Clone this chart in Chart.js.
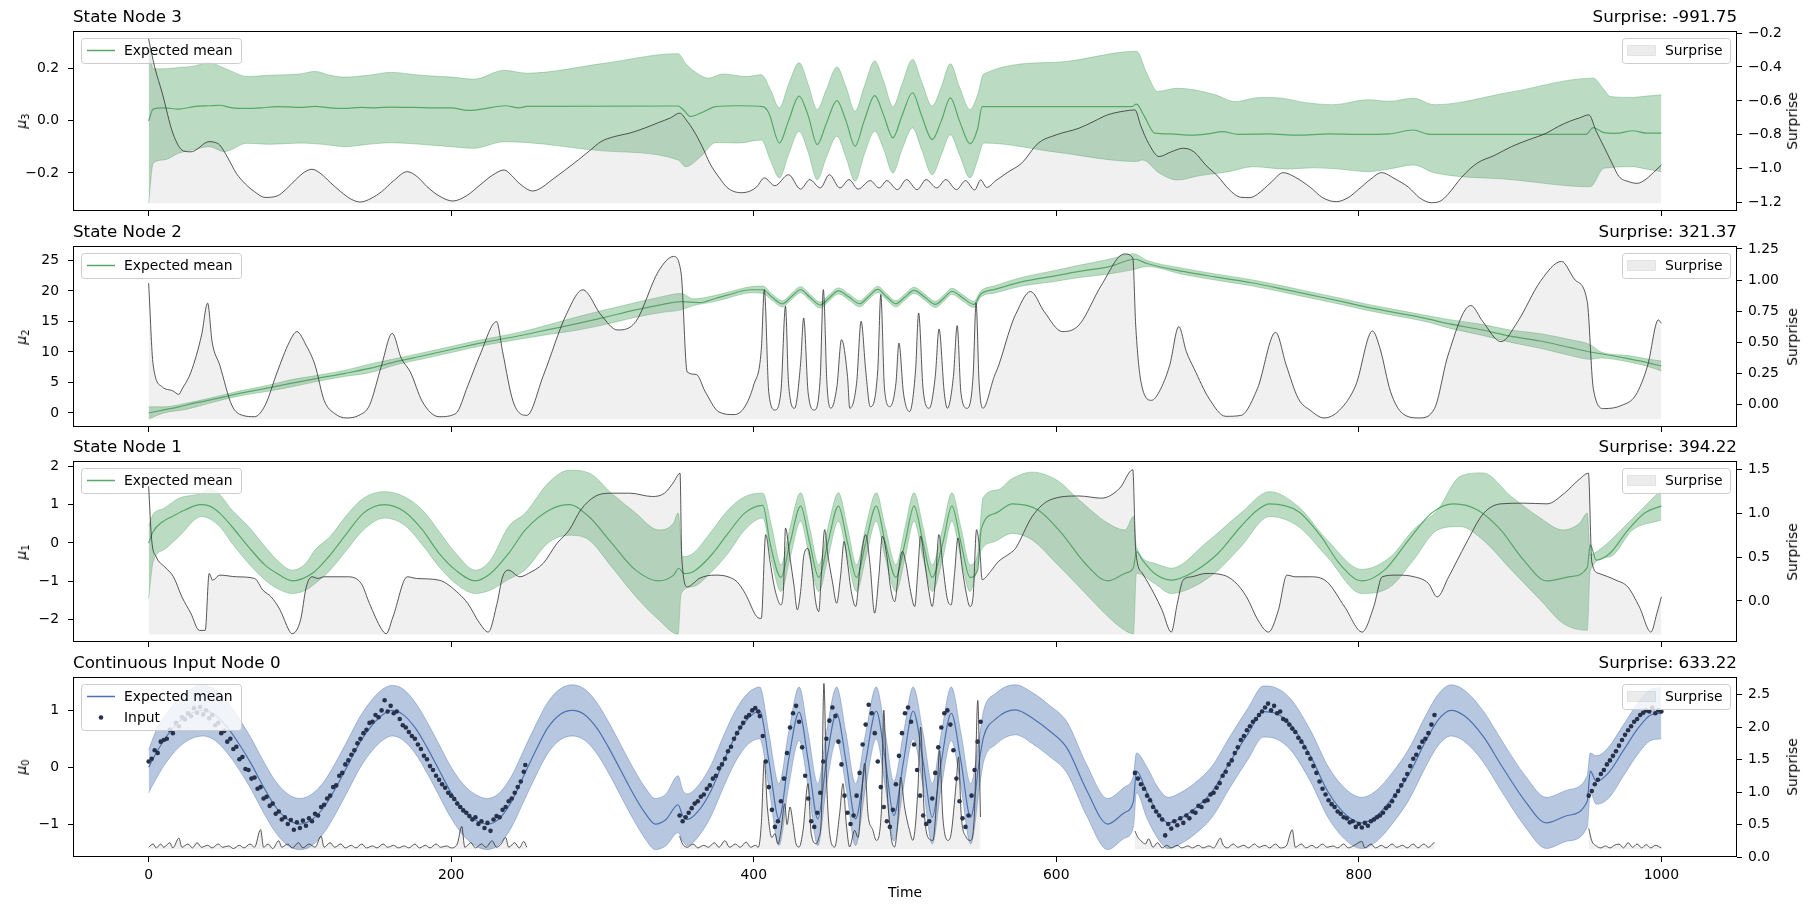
<!DOCTYPE html>
<html>
<head>
<meta charset="utf-8">
<script src="https://cdn.jsdelivr.net/npm/chart.js@4.4.1/dist/chart.umd.min.js"></script>
<style>
  body { margin: 0; background: #fff; width: 1811px; height: 911px; position: relative; overflow: hidden; font-family: "DejaVu Sans", sans-serif; color: #000; }
  canvas { position: absolute; left: 0; }
  .title { position: absolute; font-size: 16.7px; line-height: 16.7px; white-space: nowrap; }
  .lab { position: absolute; font-size: 13.9px; line-height: 1; white-space: nowrap; transform: translate(-50%, -50%) rotate(-90deg); }
  .lab sub { font-size: 10px; vertical-align: -3px; }
  .xlab { position: absolute; font-size: 13.9px; line-height: 1; transform: translate(-50%, -50%); }
</style>
</head>
<body>
<script>
const xTicks = [0, 200, 400, 600, 800, 1000];

// State Node 3
const node3Mean = [[0,0.0],[3,0.045],[10,0.05],[20,0.045],[30,0.055],[40,0.058],[47,0.06],[55,0.05],[65,0.048],[74,0.05],[85,0.055],[100,0.052],[110,0.056],[120,0.05],[130,0.048],[140,0.052],[150,0.05],[160,0.053],[175,0.052],[190,0.05],[200,0.05],[211,0.04],[220,0.045],[236,0.058],[245,0.05],[250,0.056],[350,0.057],[354,0.04],[358,0.017],[365,0.03],[375,0.055],[390,0.058],[406,0.055],[410,0.03],[417,-0.085],[423,0.0],[430,0.095],[436,0.02],[442,-0.091],[448,-0.01],[455,0.078],[461,0.0],[467,-0.097],[473,0.0],[480,0.097],[486,0.02],[492,-0.065],[498,0.02],[505,0.108],[511,0.02],[518,-0.072],[524,0.0],[530,0.088],[536,0.0],[543,-0.088],[548,-0.03],[551,0.055],[650,0.055],[653,0.064],[658,0.02],[665,-0.047],[675,-0.05],[690,-0.055],[700,-0.05],[710,-0.041],[720,-0.052],[740,-0.05],[760,-0.055],[780,-0.05],[800,-0.052],[820,-0.05],[836,-0.035],[845,-0.05],[850,-0.052],[950,-0.052],[955,-0.026],[962,-0.045],[970,-0.048],[981,-0.038],[990,-0.047],[1000,-0.047]];
const node3Upper = [[0,0.31],[3,0.2],[10,0.2],[20,0.205],[30,0.21],[40,0.225],[47,0.21],[55,0.19],[65,0.17],[80,0.175],[100,0.18],[110,0.19],[120,0.175],[130,0.168],[145,0.175],[160,0.186],[180,0.175],[200,0.168],[215,0.16],[235,0.194],[250,0.183],[300,0.22],[350,0.258],[355,0.22],[362,0.185],[370,0.164],[380,0.18],[395,0.17],[405,0.177],[411,0.12],[417,0.05],[423,0.14],[430,0.223],[436,0.14],[442,0.044],[448,0.12],[455,0.207],[461,0.13],[467,0.037],[473,0.13],[480,0.23],[486,0.15],[492,0.054],[498,0.14],[505,0.236],[511,0.15],[518,0.057],[524,0.13],[530,0.219],[536,0.13],[543,0.043],[548,0.1],[552,0.18],[600,0.225],[653,0.267],[660,0.18],[667,0.113],[680,0.125],[691,0.119],[705,0.1],[718,0.074],[735,0.09],[749,0.087],[765,0.07],[783,0.062],[806,0.081],[820,0.075],[836,0.087],[850,0.062],[900,0.11],[955,0.164],[962,0.12],[966,0.094],[981,0.09],[990,0.095],[1000,0.1]];
const node3Lower = [[0,-0.317],[3,-0.163],[10,-0.15],[20,-0.124],[30,-0.11],[40,-0.099],[50,-0.118],[65,-0.086],[80,-0.09],[100,-0.085],[115,-0.09],[130,-0.099],[145,-0.09],[160,-0.084],[180,-0.09],[200,-0.099],[215,-0.105],[235,-0.08],[250,-0.083],[300,-0.115],[350,-0.15],[355,-0.176],[365,-0.137],[375,-0.083],[390,-0.085],[405,-0.073],[411,-0.15],[417,-0.219],[423,-0.13],[430,-0.04],[436,-0.12],[442,-0.226],[448,-0.14],[455,-0.059],[461,-0.14],[467,-0.232],[473,-0.13],[480,-0.04],[486,-0.11],[492,-0.2],[498,-0.11],[505,-0.027],[511,-0.11],[518,-0.207],[524,-0.13],[530,-0.053],[536,-0.13],[543,-0.219],[548,-0.15],[552,-0.085],[600,-0.12],[653,-0.156],[657,-0.15],[668,-0.2],[680,-0.227],[695,-0.21],[714,-0.195],[730,-0.176],[752,-0.185],[770,-0.18],[787,-0.185],[806,-0.195],[820,-0.185],[836,-0.169],[850,-0.199],[900,-0.225],[953,-0.253],[962,-0.182],[981,-0.176],[990,-0.185],[1000,-0.195]];
const node3Surprise = [[0,-0.235],[4,-0.4],[9,-0.554],[16,-0.79],[23,-0.895],[28,-0.9],[32,-0.885],[37,-0.85],[40,-0.84],[44,-0.845],[47,-0.86],[52,-0.93],[58,-1.027],[64,-1.09],[70,-1.135],[77,-1.169],[85,-1.16],[91,-1.12],[97,-1.066],[103,-1.02],[108,-1.003],[114,-1.03],[120,-1.08],[127,-1.135],[134,-1.18],[140,-1.196],[147,-1.175],[154,-1.135],[162,-1.07],[171,-1.017],[178,-1.05],[184,-1.105],[192,-1.16],[201,-1.19],[210,-1.16],[219,-1.096],[227,-1.04],[235,-1.007],[240,-1.04],[245,-1.086],[254,-1.131],[260,-1.11],[265,-1.076],[275,-1.01],[284,-0.948],[292,-0.89],[299,-0.84],[308,-0.81],[318,-0.79],[328,-0.76],[337,-0.728],[345,-0.7],[351,-0.672],[356,-0.72],[360,-0.771],[366,-0.87],[371,-0.968],[377,-1.05],[383,-1.115],[392,-1.141],[398,-1.13],[402,-1.106],[407,-1.054],[414,-1.1],[423,-1.035],[431,-1.12],[437,-1.064],[444,-1.113],[450,-1.035],[457,-1.113],[463,-1.064],[469,-1.12],[477,-1.07],[483,-1.113],[488,-1.07],[495,-1.123],[501,-1.064],[508,-1.123],[514,-1.064],[521,-1.113],[527,-1.064],[534,-1.123],[540,-1.07],[546,-1.125],[550,-1.066],[554,-1.11],[560,-1.07],[568,-1.02],[577,-0.968],[588,-0.85],[600,-0.8],[615,-0.761],[625,-0.72],[634,-0.682],[645,-0.66],[652,-0.653],[656,-0.75],[661,-0.85],[668,-0.928],[676,-0.9],[684,-0.879],[691,-0.9],[699,-0.98],[707,-1.046],[714,-1.12],[722,-1.168],[728,-1.17],[733,-1.15],[742,-1.08],[750,-1.023],[758,-1.05],[768,-1.11],[776,-1.17],[785,-1.194],[793,-1.17],[800,-1.12],[808,-1.06],[815,-1.023],[824,-1.06],[833,-1.11],[840,-1.17],[848,-1.2],[854,-1.19],[859,-1.15],[868,-1.05],[878,-0.968],[890,-0.92],[901,-0.869],[912,-0.83],[924,-0.79],[932,-0.75],[940,-0.718],[946,-0.7],[952,-0.682],[957,-0.78],[962,-0.869],[967,-0.96],[972,-1.046],[978,-1.075],[984,-1.086],[990,-1.06],[995,-1.02],[1000,-0.978]];

// State Node 2
const node2Mean = [[0,0],[10,0.5],[20,1.0],[30,1.6],[47,2.47],[60,3.2],[75,3.9],[93,4.8],[110,5.6],[130,6.5],[146,7.3],[165,8.5],[180,9.3],[200,10.4],[220,11.5],[245,12.66],[265,13.7],[284,14.7],[300,15.6],[322,16.9],[340,17.8],[352,18.26],[364,18.1],[375,18.8],[383,19.35],[398,20.2],[406,20.2],[412,19.0],[419,17.9],[425,19.1],[431,20.2],[437,19.0],[444,17.7],[450,18.9],[456,20.0],[463,19.0],[470,17.9],[476,19.1],[482,20.25],[488,19.0],[494,17.9],[500,19.0],[506,20.1],[513,19.0],[520,17.8],[526,18.9],[531,19.95],[538,18.9],[545.6,17.8],[550,19.46],[560,20.3],[577,21.5],[600,22.5],[615,23.2],[635,24.0],[652,25.2],[660,24.5],[684,23.2],[705,22.3],[730,21.3],[750,20.3],[768,19.35],[790,18.2],[806,17.3],[825,16.4],[844,15.5],[860,14.6],[882,13.6],[900,12.6],[920,11.8],[940,10.7],[953,10.0],[965,9.5],[978,8.9],[990,8.3],[1000,7.7]];
const node2Upper = [[0,1.0],[10,1.0],[25,1.6],[40,2.4],[60,3.6],[80,4.6],[93,5.4],[110,6.1],[130,7.0],[146,8.0],[165,9.0],[180,9.8],[200,10.9],[220,12.0],[245,13.2],[265,14.5],[284,15.8],[300,16.8],[322,18.1],[340,19.1],[352,19.6],[360,18.7],[375,19.3],[383,19.8],[398,20.7],[406,20.8],[412,19.5],[419,18.4],[425,19.6],[431,20.7],[437,19.5],[444,18.2],[450,19.4],[456,20.5],[463,19.5],[470,18.4],[476,19.6],[482,20.75],[488,19.5],[494,18.4],[500,19.5],[506,20.6],[513,19.5],[520,18.3],[526,19.4],[531,20.45],[538,19.4],[545.6,18.3],[550,19.96],[560,20.9],[577,22.2],[600,23.4],[615,24.2],[635,25.2],[651,26.1],[660,25.0],[684,23.7],[705,22.8],[730,21.8],[750,20.8],[768,19.85],[790,18.7],[806,17.8],[825,16.9],[844,16.0],[860,15.3],[882,14.5],[900,13.6],[920,13.0],[940,12.0],[953,11.2],[960,10.0],[978,9.4],[990,8.9],[1000,8.5]];
const node2Lower = [[0,-1.0],[10,0.0],[25,0.6],[40,1.6],[60,2.8],[80,3.6],[93,4.2],[110,5.1],[130,6.0],[146,6.6],[165,8.0],[180,8.8],[200,9.9],[220,11.0],[245,12.1],[265,12.9],[284,13.6],[300,14.4],[322,15.7],[340,16.5],[352,16.9],[360,17.6],[375,18.3],[383,18.85],[398,19.7],[406,19.6],[412,18.5],[419,17.4],[425,18.6],[431,19.7],[437,18.5],[444,17.2],[450,18.4],[456,19.5],[463,18.5],[470,17.4],[476,18.6],[482,19.75],[488,18.5],[494,17.4],[500,18.5],[506,19.6],[513,18.5],[520,17.3],[526,18.4],[531,19.45],[538,18.4],[545.6,17.3],[550,18.96],[560,19.7],[577,20.8],[600,21.6],[615,22.2],[635,22.8],[651,23.5],[660,24.0],[684,22.7],[705,21.8],[730,20.8],[750,19.8],[768,18.85],[790,17.7],[806,16.8],[825,15.9],[844,15.0],[860,13.9],[882,12.7],[900,11.6],[920,10.6],[940,9.4],[953,8.8],[960,9.0],[978,8.4],[990,7.7],[1000,6.9]];
const node2Surprise = [[0,0.975],[3,0.315],[9,0.14],[16,0.108],[20,0.08],[22,0.12],[28,0.26],[35,0.558],[39,0.814],[42,0.5],[47,0.315],[55,-0.008],[62,-0.089],[70,-0.1],[77,-0.008],[85,0.26],[93,0.5],[98,0.585],[104,0.477],[110,0.315],[116,0.032],[123,-0.075],[131,-0.11],[139,-0.089],[146,-0.008],[154,0.315],[161,0.571],[167,0.37],[173,0.26],[181,0.02],[192,-0.1],[203,-0.075],[211,0.15],[219,0.396],[230,0.665],[234,0.423],[241,0.02],[250,-0.089],[261,0.234],[276,0.72],[287,0.921],[299,0.72],[310,0.598],[322,0.665],[337,1.07],[347,1.19],[352,1.056],[356,0.26],[362,0.24],[368,0.1],[377,-0.062],[387,-0.083],[394,-0.022],[400,0.156],[405,0.44],[407,0.923],[410,0.089],[414,-0.046],[418,0.106],[421,0.789],[423,0.17],[427,-0.032],[431,0.33],[433,0.695],[436,0.089],[440,-0.046],[444,0.224],[446,0.923],[448.5,0.143],[451,-0.032],[455,0.143],[458,0.52],[462,0.224],[463.5,-0.032],[468,0.17],[471,0.668],[474,0.277],[477,-0.019],[482,0.277],[484,0.883],[486.5,0.116],[490,-0.019],[494,0.17],[496,0.493],[499,0.089],[503,-0.059],[507,0.277],[509,0.735],[512,0.116],[516,-0.032],[520,0.224],[522.5,0.606],[526,0.089],[528,-0.032],[532,0.224],[534.5,0.633],[537,0.089],[541,-0.032],[545,0.224],[547,0.816],[549,0.17],[551.5,-0.032],[559,0.224],[562,0.315],[570,0.628],[573,0.72],[583,0.908],[592,0.746],[604,0.585],[615,0.638],[630,0.962],[645,1.21],[650.6,1.177],[652.5,0.638],[656,0.18],[663,0.032],[668,0.1],[675,0.315],[681,0.625],[686,0.423],[691,0.29],[701,0.046],[712,-0.097],[722,-0.09],[733,0.127],[745,0.579],[752,0.315],[760,0.046],[768,-0.05],[777,-0.11],[787,-0.05],[798,0.154],[809,0.59],[814,0.45],[821,0.1],[829,-0.075],[840,-0.11],[850,-0.035],[859,0.396],[874,0.795],[882,0.665],[894,0.504],[905,0.665],[920,0.989],[934,1.15],[943,1.0],[951,0.827],[955,0.127],[962,-0.035],[974,-0.008],[983,0.073],[991,0.315],[998,0.679],[1000,0.652]];

// State Node 1
const node1Mean = [[0,0],[3,0.3],[9,0.55],[16,0.7],[24,0.86],[34,1.0],[40,0.97],[47,0.78],[55,0.43],[66,-0.1],[77,-0.58],[85,-0.8],[95,-0.99],[108,-0.8],[119,-0.36],[131,0.25],[142,0.78],[156,1.0],[169,0.82],[181,0.34],[192,-0.27],[203,-0.71],[216,-0.99],[226,-0.8],[238,-0.27],[249,0.34],[265,0.86],[278,1.0],[291,0.69],[306,0.0],[322,-0.71],[337,-0.99],[347,-0.84],[350.5,-0.66],[354,-0.8],[360,-0.75],[371,-0.36],[383,0.25],[394,0.78],[406,0.98],[411,-0.04],[418,-0.9],[424,0.0],[431,0.96],[437,0.0],[443,-0.9],[449,0.0],[456,0.96],[462,0.0],[468,-0.9],[474,0.0],[481,0.96],[487,0.0],[494,-0.9],[500,0.0],[506,0.96],[512,0.0],[518,-0.9],[525,0.0],[531,0.96],[537,0.0],[543,-0.9],[548,-0.7],[550.5,0.38],[560,0.78],[571,1.02],[588,0.86],[603.6,0.25],[619,-0.53],[634,-0.99],[645.6,-0.79],[651,-0.64],[653,-0.23],[657,-0.45],[665,-0.8],[676,-0.97],[691,-0.75],[707,-0.27],[722,0.43],[733,0.86],[741,1.02],[760,0.82],[775,0.17],[787,-0.53],[802,-0.99],[817,-0.71],[833,0.08],[848,0.78],[863,1.02],[878.5,0.86],[893.8,0.34],[909,-0.45],[924,-0.99],[939.6,-0.88],[951,-0.64],[953,-0.05],[957,-0.45],[966,-0.27],[978,0.34],[989,0.78],[1000,0.97]];
const node1Upper = [[0,0.45],[3,0.75],[10,0.9],[20,1.17],[35,1.3],[40,1.43],[47,1.26],[55,0.86],[66,0.43],[77,-0.1],[85,-0.45],[95,-0.71],[104,-0.53],[110,-0.18],[120,0.17],[131,0.73],[142,1.17],[156,1.34],[169,1.21],[181,0.86],[192,0.3],[203,-0.27],[216,-0.71],[226,-0.45],[238,0.43],[249,0.78],[264,1.56],[278,1.9],[291,1.83],[306,1.3],[322,0.78],[337,0.34],[347,0.52],[350,0.78],[353,-0.36],[360,-0.27],[371,0.25],[383,0.86],[394,1.21],[406,1.3],[412,0.4],[418,-0.57],[424,0.4],[431,1.31],[437,0.4],[443,-0.57],[449,0.4],[456,1.31],[462,0.4],[468,-0.57],[474,0.4],[481,1.31],[487,0.4],[494,-0.57],[500,0.4],[506,1.31],[512,0.4],[518,-0.57],[525,0.4],[531,1.31],[537,0.4],[543,-0.57],[548,-0.3],[551.6,1.18],[561.6,1.39],[570,1.66],[584,1.85],[600,1.65],[615,1.13],[634,0.52],[645.6,0.34],[651,0.69],[653,-0.1],[665,-0.53],[676,-0.66],[699,0.0],[722,0.78],[741,1.34],[760,0.95],[779,0.08],[802,-0.69],[821,-0.36],[836,0.34],[852,0.86],[867,1.74],[882,1.83],[901,1.21],[920,0.65],[935,0.34],[946,0.52],[951,0.78],[953,-0.3],[959,-0.18],[978,0.52],[990,1.0],[1000,1.39]];
const node1Lower = [[0,-1.45],[3,-0.49],[10,-0.18],[20,0.17],[35,0.69],[47,0.43],[55,0.0],[66,-0.53],[77,-0.97],[85,-1.19],[95,-1.32],[104,-1.23],[110,-1.06],[120,-0.71],[131,-0.18],[142,0.34],[156,0.65],[169,0.47],[181,-0.05],[192,-0.62],[203,-1.06],[216,-1.32],[226,-1.23],[238,-0.95],[249,-0.7],[264,0.0],[278,0.2],[291,0.08],[306,-0.62],[322,-1.4],[337,-2.0],[350,-2.38],[352,-1.32],[360,-1.14],[371,-0.8],[383,-0.27],[394,0.34],[406,0.65],[412,-0.5],[418,-1.27],[424,-0.4],[431,0.57],[437,-0.4],[443,-1.27],[449,-0.4],[456,0.57],[462,-0.4],[468,-1.27],[474,-0.4],[481,0.57],[487,-0.4],[494,-1.27],[500,-0.4],[506,0.57],[512,-0.4],[518,-1.27],[525,-0.4],[531,0.57],[537,-0.4],[543,-1.27],[550,-0.22],[560,0.05],[571,0.25],[584,0.08],[600,-0.53],[615,-1.14],[630,-1.76],[642,-2.19],[651,-2.37],[653,-0.79],[665,-1.06],[676,-1.32],[691,-1.14],[707,-0.71],[722,-0.1],[741,0.69],[760,0.43],[779,-0.36],[802,-1.32],[821,-1.14],[836,-0.45],[852,0.34],[867,0.43],[882,0.08],[901,-0.71],[920,-1.49],[935,-2.1],[951,-2.28],[953,-0.71],[966,-0.36],[981,0.34],[1000,0.6]];
const node1Surprise = [[0,1.31],[2,0.7],[5,0.505],[10.6,0.39],[16.4,0.276],[22,0.046],[28,-0.145],[33.5,-0.337],[37.4,-0.337],[40,0.314],[42.3,0.237],[47,0.295],[58,0.276],[70,0.257],[75.6,0.122],[81,0.046],[87,-0.107],[92.8,-0.337],[94.7,-0.375],[100.4,-0.22],[104.2,0.16],[108,0.276],[112,0.257],[116,0.276],[131,0.276],[140.5,0.2],[146,-0.03],[153.8,-0.318],[157,-0.375],[161.5,-0.184],[171,0.276],[177,0.257],[192,0.237],[205,0.084],[211,-0.03],[219,-0.26],[224.5,-0.356],[230.3,-0.03],[234,0.276],[237.8,0.352],[245.5,0.276],[251,0.314],[260.8,0.429],[270,0.66],[278,0.81],[285.6,1.04],[295,1.194],[306.5,1.232],[318,1.232],[333,1.194],[341,1.232],[346.6,1.347],[351.3,1.46],[352.4,0.505],[356.2,0.16],[360,0.2],[364,0.257],[375,0.295],[383,0.276],[389,0.218],[394.4,0.084],[402,-0.18],[405,-0.2],[407.9,0.758],[410.8,0.45],[413.4,0.18],[415.6,0.03],[417.8,-0.045],[419.6,0.108],[421,0.834],[424,0.49],[426.6,0.18],[428.8,-0.103],[431,0.108],[433.2,0.528],[435.8,0.6],[438.7,0.337],[440.9,-0.007],[443,-0.122],[444.7,0.3],[446.9,0.815],[449,0.528],[452,0.222],[454.8,-0.026],[457.5,0.3],[459.7,0.68],[461.9,0.45],[464.5,0.108],[467.4,-0.064],[470.2,0.376],[471.8,0.6],[474,0.758],[476.9,0.414],[479.9,-0.14],[482.8,0.3],[485,0.74],[487.9,0.528],[490.5,0.145],[493.2,-0.008],[496,0.376],[498.2,0.566],[500.4,0.45],[503.7,0.108],[506.4,-0.064],[508.6,0.376],[510.3,0.74],[513,0.45],[515.8,0.108],[518,-0.064],[520.2,0.26],[522.4,0.758],[525.2,0.376],[527.9,0.03],[530.5,-0.045],[532.7,0.3],[535,0.72],[537.8,0.376],[540.7,0.07],[542.9,-0.064],[544.9,0.03],[547.3,0.815],[549.5,0.566],[551,0.244],[556.7,0.34],[561.6,0.448],[569.9,0.55],[573,0.6],[584,0.964],[596,1.156],[615,1.2],[630,1.175],[642,1.29],[650.6,1.5],[652.5,0.58],[657,0.314],[664.6,0.084],[670,-0.107],[676,-0.356],[680,-0.03],[683.8,0.237],[689.5,0.276],[699,0.314],[710.5,0.295],[718,0.218],[725.8,0.046],[733.4,-0.222],[740.3,-0.356],[746.8,-0.107],[752.5,0.295],[758,0.276],[768,0.276],[779,0.218],[790.7,-0.07],[802.2,-0.356],[809.8,-0.07],[815.5,0.276],[825,0.295],[836.5,0.276],[846,0.2],[851.8,0.046],[859.4,0.276],[870.9,0.658],[882.4,1.0],[893.8,1.11],[909,1.118],[924.4,1.11],[935.8,1.23],[945.4,1.385],[951.8,1.46],[954,0.448],[958.7,0.314],[970,0.237],[977.8,0.16],[985.5,-0.07],[993.1,-0.356],[997,-0.145],[1000,0.046]];

// Continuous Input Node 0
const node0Mean = [[0,0],[5,0.25],[12,0.55],[20,0.8],[28,0.95],[36,1.0],[44,0.92],[52,0.7],[60,0.4],[68,0.05],[76,-0.35],[84,-0.7],[92,-0.92],[100,-1.0],[108,-0.92],[116,-0.7],[124,-0.35],[132,0.05],[140,0.45],[148,0.75],[155,0.93],[161,1.0],[168,0.93],[176,0.7],[184,0.35],[192,-0.05],[200,-0.45],[208,-0.75],[216,-0.93],[224,-1.0],[232,-0.9],[240,-0.6],[248,-0.15],[256,0.3],[264,0.7],[272,0.93],[280,1.0],[288,0.93],[296,0.7],[304,0.35],[312,-0.05],[320,-0.45],[328,-0.8],[335,-1.0],[342,-0.92],[350,-0.66],[353,-0.85],[356,-0.92],[364,-0.75],[372,-0.4],[380,0.1],[388,0.55],[396,0.85],[404,0.99],[410,0.12],[416.7,-0.91],[423,0.12],[430,0.97],[436,0.12],[442.4,-0.91],[448,0.1],[454.8,0.95],[461,0.1],[467.3,-0.91],[474,0.1],[481,0.99],[487,0.12],[492.6,-0.85],[499,0.1],[505.4,0.99],[512,0.1],[518,-0.88],[524,0.1],[530.6,0.95],[537,0.1],[543.4,-0.88],[549.5,0.18],[552,0.54],[560,0.85],[573,1.01],[585,0.85],[595,0.65],[607,0.34],[620,-0.4],[634,-1.0],[645,-0.8],[651,-0.6],[653,-0.07],[660,-0.45],[667,-0.8],[674,-0.98],[682,-0.9],[692,-0.72],[703,-0.43],[715,0.1],[727,0.6],[737,0.98],[745,0.95],[755,0.75],[768,0.2],[780,-0.45],[792,-0.85],[802,-0.98],[812,-0.85],[822,-0.55],[833,-0.13],[845,0.5],[853,0.85],[861,1.0],[870,0.9],[882,0.55],[895,0.0],[910,-0.6],[924,-0.98],[938,-0.85],[951,-0.6],[953,-0.07],[957,-0.25],[965,-0.1],[975,0.3],[985,0.7],[993,0.92],[1000,0.95]];
const node0Upper = [[0,0.3],[5,0.65],[12,0.95],[20,1.2],[28,1.38],[36,1.44],[44,1.37],[52,1.15],[60,0.85],[68,0.5],[76,0.1],[84,-0.25],[92,-0.47],[100,-0.55],[108,-0.47],[116,-0.25],[124,0.1],[132,0.5],[140,0.9],[148,1.2],[155,1.38],[161,1.44],[168,1.38],[176,1.15],[184,0.8],[192,0.4],[200,0.0],[208,-0.3],[216,-0.48],[224,-0.55],[232,-0.45],[240,-0.15],[248,0.3],[256,0.75],[264,1.15],[272,1.38],[280,1.45],[288,1.38],[296,1.15],[304,0.8],[312,0.4],[320,0.0],[328,-0.35],[335,-0.55],[342,-0.47],[350,-0.15],[353,-0.4],[356,-0.47],[364,-0.3],[372,0.05],[380,0.55],[388,1.0],[396,1.3],[404,1.41],[410,0.6],[416.7,-0.29],[423,0.6],[430,1.41],[436,0.6],[442.4,-0.29],[448,0.6],[454.8,1.41],[461,0.6],[467.3,-0.29],[474,0.6],[481,1.41],[487,0.6],[492.6,-0.25],[499,0.6],[505.4,1.41],[512,0.6],[518,-0.29],[524,0.6],[530.6,1.41],[537,0.6],[543.4,-0.29],[549.5,0.6],[552,1.0],[560,1.3],[573,1.45],[585,1.3],[595,1.1],[607,0.8],[620,0.05],[634,-0.55],[645,-0.35],[651,-0.15],[653,0.25],[660,0.0],[667,-0.35],[674,-0.53],[682,-0.45],[692,-0.27],[703,0.02],[715,0.55],[727,1.05],[737,1.43],[745,1.4],[755,1.2],[768,0.65],[780,0.0],[792,-0.4],[802,-0.53],[812,-0.4],[822,-0.1],[833,0.32],[845,0.95],[853,1.3],[861,1.45],[870,1.35],[882,1.0],[895,0.45],[910,-0.15],[924,-0.53],[938,-0.4],[951,-0.15],[953,0.25],[957,0.2],[965,0.35],[975,0.75],[985,1.15],[993,1.37],[1000,1.4]];
const node0Lower = [[0,-0.45],[5,-0.2],[12,0.1],[20,0.35],[28,0.5],[36,0.55],[44,0.47],[52,0.25],[60,-0.05],[68,-0.4],[76,-0.8],[84,-1.15],[92,-1.38],[100,-1.45],[108,-1.38],[116,-1.15],[124,-0.8],[132,-0.4],[140,0.0],[148,0.3],[155,0.48],[161,0.55],[168,0.48],[176,0.25],[184,-0.1],[192,-0.5],[200,-0.9],[208,-1.2],[216,-1.38],[224,-1.45],[232,-1.35],[240,-1.05],[248,-0.6],[256,-0.15],[264,0.25],[272,0.48],[280,0.55],[288,0.48],[296,0.25],[304,-0.1],[312,-0.5],[320,-0.9],[328,-1.25],[335,-1.45],[342,-1.38],[350,-1.15],[353,-1.3],[356,-1.38],[364,-1.2],[372,-0.85],[380,-0.35],[388,0.1],[396,0.4],[404,0.5],[410,-0.35],[416.7,-1.38],[423,-0.35],[430,0.47],[436,-0.35],[442.4,-1.38],[448,-0.35],[454.8,0.47],[461,-0.35],[467.3,-1.38],[474,-0.35],[481,0.5],[487,-0.35],[492.6,-1.3],[499,-0.35],[505.4,0.5],[512,-0.35],[518,-1.35],[524,-0.35],[530.6,0.47],[537,-0.35],[543.4,-1.35],[549.5,-0.3],[552,0.1],[560,0.4],[573,0.57],[585,0.4],[595,0.2],[607,-0.1],[620,-0.85],[634,-1.45],[645,-1.25],[651,-1.05],[653,-0.45],[660,-0.9],[667,-1.25],[674,-1.43],[682,-1.35],[692,-1.17],[703,-0.88],[715,-0.35],[727,0.15],[737,0.53],[745,0.5],[755,0.3],[768,-0.25],[780,-0.9],[792,-1.3],[802,-1.43],[812,-1.3],[822,-1.0],[833,-0.58],[845,0.05],[853,0.4],[861,0.55],[870,0.45],[882,0.1],[895,-0.45],[910,-1.05],[924,-1.43],[938,-1.3],[951,-1.05],[953,-0.45],[957,-0.65],[965,-0.55],[975,-0.15],[985,0.25],[993,0.47],[1000,0.5]];
const node0Input = [[0,0.1],[2,0.15],[4,0.3],[6,0.25],[8,0.45],[10,0.48],[12,0.5],[14,0.66],[16,0.6],[18,0.78],[20,0.72],[22,0.88],[24,0.84],[26,0.95],[28,0.9],[30,1.04],[32,0.96],[34,1.06],[36,0.93],[38,1.0],[40,0.86],[42,0.92],[44,0.74],[46,0.78],[48,0.6],[50,0.64],[52,0.45],[54,0.5],[56,0.32],[58,0.36],[60,0.14],[62,0.18],[64,-0.03],[66,-0.05],[68,-0.2],[70,-0.18],[72,-0.38],[74,-0.35],[76,-0.55],[78,-0.52],[80,-0.68],[82,-0.64],[84,-0.82],[86,-0.78],[88,-0.92],[90,-0.88],[92,-1.0],[94,-0.93],[96,-1.1],[98,-0.97],[100,-1.07],[102,-0.94],[104,-1.03],[106,-0.9],[108,-0.95],[110,-0.82],[112,-0.85],[114,-0.7],[116,-0.66],[118,-0.55],[120,-0.5],[122,-0.35],[124,-0.32],[126,-0.15],[128,-0.1],[130,0.05],[132,0.12],[134,0.22],[136,0.3],[138,0.42],[140,0.5],[142,0.6],[144,0.66],[146,0.78],[148,0.8],[150,0.92],[152,0.88],[154,1.0],[156,1.18],[158,0.98],[160,1.08],[162,0.95],[164,0.98],[166,0.85],[168,0.74],[170,0.7],[172,0.62],[174,0.55],[176,0.5],[178,0.4],[180,0.32],[182,0.2],[184,0.14],[186,0.02],[188,-0.05],[190,-0.15],[192,-0.22],[194,-0.3],[196,-0.36],[198,-0.45],[200,-0.5],[202,-0.56],[204,-0.64],[206,-0.7],[208,-0.76],[210,-0.8],[212,-0.86],[214,-0.92],[216,-0.88],[218,-1.0],[220,-0.95],[222,-1.07],[224,-0.98],[226,-1.12],[228,-0.92],[230,-0.86],[232,-0.88],[234,-0.75],[236,-0.7],[238,-0.6],[240,-0.55],[242,-0.45],[244,-0.35],[246,-0.25],[248,-0.08],[249,0.04],
  [351,-0.85],[353,-0.95],[355,-0.88],[357,-0.8],[359,-0.72],[361,-0.64],[363,-0.6],[365,-0.52],[367,-0.48],[369,-0.38],[371,-0.32],[373,-0.2],[375,-0.15],[377,-0.02],[379,0.05],[381,0.15],[383,0.28],[385,0.36],[387,0.5],[389,0.6],[391,0.7],[393,0.78],[395,0.88],[397,0.92],[399,1.0],[401,1.04],[403,0.98],
  [404,0.9],[406,0.55],[408,0.1],[410,-0.35],[412,-0.75],[414,-1.05],[416,-0.95],[418,-0.6],[420,-0.2],[422,0.25],[424,0.7],[426,0.95],[428,1.08],[430,0.8],[432,0.35],[434,-0.15],[436,-0.55],[438,-0.95],[440,-1.05],[442,-0.8],[444,-0.45],[446,0.1],[448,0.5],[450,0.82],[452,1.05],[454,0.9],[456,0.45],[458,0.05],[460,-0.5],[462,-0.8],[464,-1.0],[466,-0.85],[468,-0.5],[470,-0.1],[472,0.4],[474,0.75],[476,1.1],[478,0.95],[480,0.6],[482,0.1],[484,-0.35],[486,-0.7],[488,-0.95],[490,-1.05],[492,-0.75],[494,-0.3],[496,0.2],[498,0.6],[500,0.95],[502,1.05],[504,0.8],[506,0.4],[508,-0.05],[510,-0.5],[512,-0.85],[514,-1.0],[516,-0.95],[518,-0.55],[520,-0.1],[522,0.35],[524,0.7],[526,0.95],[528,1.0],[530,0.75],[532,0.3],[534,-0.2],[536,-0.6],[538,-0.9],[540,-1.05],[542,-0.85],[544,-0.5],[546,-0.05],[548,0.45],[550,0.8],
  [652,-0.1],[654,-0.2],[656,-0.3],[658,-0.38],[660,-0.5],[662,-0.58],[664,-0.7],[666,-0.78],[668,-0.85],[670,-0.92],[672,-1.2],[674,-1.0],[676,-1.08],[678,-0.95],[680,-1.02],[682,-0.9],[684,-0.98],[686,-0.85],[688,-0.9],[690,-0.78],[692,-0.8],[694,-0.68],[696,-0.7],[698,-0.6],[700,-0.58],[702,-0.48],[704,-0.45],[706,-0.36],[708,-0.28],[710,-0.15],[712,-0.08],[714,0.05],[716,0.12],[718,0.25],[720,0.35],[722,0.48],[724,0.55],[726,0.65],[728,0.72],[730,0.8],[732,0.85],[734,0.92],[736,0.98],[738,1.05],[740,1.12],[742,1.0],[744,1.08],[746,0.95],[748,0.98],[750,0.85],[752,0.82],[754,0.75],[756,0.68],[758,0.62],[760,0.52],[762,0.45],[764,0.35],[766,0.25],[768,0.15],[770,0.02],[772,-0.1],[774,-0.25],[776,-0.38],[778,-0.48],[780,-0.58],[782,-0.65],[784,-0.7],[786,-0.78],[788,-0.82],[790,-0.88],[792,-0.9],[794,-0.97],[796,-0.95],[798,-1.05],[800,-1.0],[802,-1.06],[804,-0.98],[806,-1.03],[808,-0.95],[810,-0.92],[812,-0.88],[814,-0.85],[816,-0.8],[818,-0.72],[820,-0.68],[822,-0.6],[824,-0.5],[826,-0.42],[828,-0.32],[830,-0.22],[832,-0.12],[834,0.02],[836,0.15],[838,0.22],[840,0.35],[842,0.45],[844,0.5],[846,0.6],[848,0.75],[850,0.92],
  [952,-0.5],[954,-0.42],[956,-0.3],[958,-0.22],[960,-0.12],[962,-0.05],[964,0.05],[966,0.12],[968,0.2],[970,0.28],[972,0.38],[974,0.48],[976,0.57],[978,0.65],[980,0.72],[982,0.8],[984,0.85],[986,0.92],[988,0.96],[990,1.0],[992,0.98],[994,1.05],[996,0.95],[998,1.0],[1000,0.98]];
const node0Surprise = [[0,0.15],[3,0.2],[5,0.14],[8,0.2],[10,0.15],[14,0.22],[16,0.14],[20,0.29],[22,0.15],[26,0.2],[29,0.14],[32,0.22],[35,0.15],[39,0.18],[42,0.14],[46,0.2],[49,0.15],[53,0.17],[56,0.13],[60,0.18],[63,0.14],[67,0.2],[70,0.15],[74,0.42],[76,0.15],[79,0.2],[82,0.13],[86,0.25],[88,0.15],[92,0.2],[95,0.14],[99,0.22],[102,0.14],[106,0.2],[110,0.15],[114,0.32],[116,0.15],[120,0.22],[123,0.15],[127,0.2],[130,0.14],[134,0.18],[137,0.14],[141,0.2],[144,0.14],[148,0.17],[151,0.14],[155,0.2],[158,0.15],[162,0.18],[165,0.14],[169,0.17],[172,0.14],[176,0.2],[179,0.14],[183,0.18],[186,0.14],[190,0.2],[193,0.15],[197,0.17],[200,0.14],[204,0.2],[207,0.47],[209,0.15],[213,0.22],[216,0.14],[220,0.2],[223,0.15],[227,0.25],[230,0.15],[233,0.2],[236,0.3],[238,0.15],[242,0.22],[245,0.14],[248,0.24],[250,0.15],[251,null],
  [351,0.32],[353,0.2],[356,0.15],[360,0.2],[363,0.14],[367,0.18],[370,0.15],[374,0.22],[377,0.15],[381,0.25],[384,0.15],[388,0.2],[391,0.15],[395,0.23],[398,0.15],[401,0.18],[403,0.15],[405,0.5],[407,1.49],[409,0.77],[412,0.3],[414,0.36],[416,0.2],[418,0.4],[420.5,0.82],[422,0.5],[424,0.77],[426,0.51],[428,0.2],[430,0.154],[432.6,0.41],[435.9,1.13],[438,0.36],[441.4,0.205],[443,0.3],[444.7,0.616],[446.4,2.67],[448,1.28],[450.2,0.36],[453.5,0.154],[456.8,0.667],[459,1.13],[461.2,0.51],[463.4,0.154],[466.7,0.41],[469,0.3],[471.1,0.87],[473.3,1.44],[475.5,0.667],[478.8,0.41],[481,0.256],[484.3,0.667],[486,2.26],[487.6,1.28],[490.5,0.36],[493.1,0.154],[495.3,0.565],[497.1,1.23],[499.7,0.77],[503,0.41],[505.2,0.256],[508.5,1.03],[510.3,2.0],[512.5,0.77],[515.1,0.307],[518.4,0.256],[521.3,1.03],[522.8,1.64],[525,0.616],[528.3,0.256],[530.5,0.36],[533.8,1.13],[535.4,1.54],[537.1,0.667],[540.4,0.307],[543.3,0.256],[545.9,0.667],[548.1,2.41],[549.9,0.616],[551,null],
  [652,0.4],[654,0.3],[656,0.25],[659,0.2],[661,0.28],[664,0.15],[667,0.22],[670,0.14],[673,0.18],[676,0.14],[680,0.18],[683,0.14],[687,0.17],[690,0.14],[694,0.18],[697,0.14],[701,0.17],[704,0.14],[708.6,0.29],[710,0.2],[713,0.14],[717,0.2],[720,0.15],[724,0.18],[727,0.14],[731,0.2],[734,0.15],[738,0.18],[741,0.14],[745,0.2],[748,0.14],[752,0.17],[756,0.42],[758,0.15],[762,0.2],[765,0.14],[769,0.18],[772,0.14],[776,0.2],[779,0.15],[783,0.17],[786,0.14],[790,0.2],[793,0.14],[797,0.18],[802,0.24],[804,0.14],[808,0.2],[811,0.14],[815,0.18],[818,0.14],[822,0.2],[825,0.15],[829,0.18],[832,0.14],[836,0.2],[839,0.14],[843,0.2],[846,0.15],[850,0.23],[851,null],
  [952,0.44],[954,0.25],[957,0.17],[960,0.14],[963,0.17],[966,0.14],[969,0.18],[972,0.2],[975,0.14],[978,0.22],[981,0.15],[984,0.2],[987,0.14],[990,0.19],[993,0.14],[996,0.18],[1000,0.14]];

const GREEN = "#55a868";
const GREEN_BAND = "rgba(85,168,104,0.4)";
const BLUE = "#4c72b0";
const BLUE_BAND = "rgba(76,114,176,0.4)";
const SURPRISE_FILL = "rgba(128,128,128,0.12)";
const SURPRISE_LINE = "#2e2e2e";
const DOT = "#27314a";
const FONT = "'DejaVu Sans', sans-serif";

const fmt = (d) => (v) => {
  const s = Number(v).toFixed(d);
  return (Math.abs(v) < 1e-9 ? (0).toFixed(d) : s).replace("-", "\u2212");
};

const panels = [
  {
    title: "State Node 3", score: "Surprise: -991.75", sub: "3",
    top: 31, h: 180, xh: 8,
    left: [-0.346, 0.345], leftTicks: [-0.2, 0.0, 0.2], leftFmt: fmt(1),
    right: [-1.249, -0.188], rightTicks: [-1.2, -1.0, -0.8, -0.6, -0.4, -0.2], rightFmt: fmt(1),
    mean: node3Mean, upper: node3Upper, lower: node3Lower,
    surprise: node3Surprise, base: -1.203, color: GREEN, band: GREEN_BAND,
  },
  {
    title: "State Node 2", score: "Surprise: 321.37", sub: "2",
    top: 246, h: 181, xh: 8,
    left: [-2.3, 27.37], leftTicks: [0, 5, 10, 15, 20, 25], leftFmt: fmt(0),
    right: [-0.183, 1.274], rightTicks: [0, 0.25, 0.5, 0.75, 1.0, 1.25], rightFmt: fmt(2),
    mean: node2Mean, upper: node2Upper, lower: node2Lower,
    surprise: node2Surprise, base: -0.121, color: GREEN, band: GREEN_BAND,
  },
  {
    title: "State Node 1", score: "Surprise: 394.22", sub: "1",
    top: 461, h: 181, xh: 8,
    left: [-2.587, 2.141], leftTicks: [-2, -1, 0, 1, 2], leftFmt: fmt(0),
    right: [-0.47, 1.6], rightTicks: [0, 0.5, 1.0, 1.5], rightFmt: fmt(1),
    mean: node1Mean, upper: node1Upper, lower: node1Lower,
    surprise: node1Surprise, base: -0.383, color: GREEN, band: GREEN_BAND,
  },
  {
    title: "Continuous Input Node 0", score: "Surprise: 633.22", sub: "0",
    top: 677, h: 180, xh: 28,
    left: [-1.58, 1.588], leftTicks: [-1, 0, 1], leftFmt: fmt(0),
    right: [0, 2.77], rightTicks: [0, 0.5, 1.0, 1.5, 2.0, 2.5], rightFmt: fmt(1),
    mean: node0Mean, upper: node0Upper, lower: node0Lower, input: node0Input,
    surprise: node0Surprise, base: 0.12, color: BLUE, band: BLUE_BAND,
  },
];

function roundRect(ctx, x, y, w, h, r) {
  ctx.beginPath();
  ctx.moveTo(x + r, y);
  ctx.arcTo(x + w, y, x + w, y + h, r);
  ctx.arcTo(x + w, y + h, x, y + h, r);
  ctx.arcTo(x, y + h, x, y, r);
  ctx.arcTo(x, y, x + w, y, r);
  ctx.closePath();
}

function drawLegendBox(ctx, x, y, w, h, items) {
  ctx.save();
  roundRect(ctx, x + 0.5, y + 0.5, w, h, 3);
  ctx.fillStyle = "rgba(255,255,255,0.8)";
  ctx.fill();
  ctx.strokeStyle = "#cccccc";
  ctx.lineWidth = 1;
  ctx.stroke();
  ctx.font = "13.9px " + FONT;
  ctx.textBaseline = "middle";
  ctx.fillStyle = "#000";
  items.forEach((it, i) => {
    const cy = y + 12.5 + i * 21;
    if (it.kind === "line") {
      ctx.strokeStyle = it.color;
      ctx.lineWidth = 1.5;
      ctx.beginPath();
      ctx.moveTo(x + 6, cy);
      ctx.lineTo(x + 34, cy);
      ctx.stroke();
    } else if (it.kind === "dot") {
      ctx.fillStyle = it.color;
      ctx.beginPath();
      ctx.arc(x + 20, cy, 2.3, 0, Math.PI * 2);
      ctx.fill();
    } else {
      ctx.fillStyle = "rgba(128,128,128,0.15)";
      ctx.fillRect(x + 5.5, cy - 5, 28, 10);
      ctx.strokeStyle = "rgba(128,128,128,0.15)";
      ctx.strokeRect(x + 5.5, cy - 5, 28, 10);
    }
    ctx.fillStyle = "#000";
    ctx.fillText(it.label, x + 43, cy + 1);
  });
  ctx.restore();
}

const framePlugin = {
  id: "frameAndLegends",
  afterDatasetDraw(chart, args) {
    const ds = chart.data.datasets[args.index];
    if (!ds.legendAfter) return;
    const a = chart.chartArea;
    const p = chart.options.plugins.frameAndLegends;
    drawLegendBox(chart.ctx, a.left + 8, a.top + 7, 160, p.leftItems.length > 1 ? 46 : 25, p.leftItems);
  },
  afterDatasetsDraw(chart) {
    const a = chart.chartArea;
    const ctx = chart.ctx;
    drawLegendBox(ctx, a.right - 115, a.top + 7, 108, 25, [{ kind: "patch", label: "Surprise" }]);
    ctx.save();
    ctx.strokeStyle = "#000";
    ctx.lineWidth = 1;
    ctx.strokeRect(a.left + 0.5, a.top + 0.5, a.right - a.left - 1, a.bottom - a.top - 1);
    ctx.restore();
  },
};

function addText(cls, text, style) {
  const d = document.createElement("div");
  d.className = cls;
  d.innerHTML = text;
  Object.assign(d.style, style);
  document.body.appendChild(d);
}

panels.forEach((p, n) => {
  const canvas = document.createElement("canvas");
  const ch = 10 + p.h + p.xh;
  canvas.width = 1811;
  canvas.height = ch;
  canvas.style.top = (p.top - 10) + "px";
  canvas.style.width = "1811px";
  canvas.style.height = ch + "px";
  document.body.appendChild(canvas);

  const last = n === 3;
  const datasets = [
    { data: p.lower, yAxisID: "y", borderColor: p.band, borderWidth: 1, pointRadius: 0, fill: false, order: 6 },
    { data: p.upper, yAxisID: "y", borderColor: p.band, borderWidth: 1, pointRadius: 0, fill: "-1", backgroundColor: p.band, order: 5 },
    { data: p.mean, yAxisID: "y", borderColor: p.color, borderWidth: 1.2, pointRadius: 0, fill: false, order: 4, legendAfter: !p.input },
  ];
  if (p.input) {
    datasets.push({ data: p.input, yAxisID: "y", showLine: false, pointRadius: 2.3, pointBorderWidth: 0, pointBackgroundColor: DOT, order: 3, legendAfter: true });
  }
  datasets.push({ data: p.surprise, yAxisID: "y2", borderColor: SURPRISE_LINE, borderWidth: 0.8, pointRadius: 0, fill: { value: p.base }, backgroundColor: SURPRISE_FILL, order: 1, spanGaps: false });

  const leftItems = [{ kind: "line", color: p.color, label: "Expected mean" }];
  if (p.input) leftItems.push({ kind: "dot", color: DOT, label: "Input" });

  new Chart(canvas.getContext("2d"), {
    type: "line",
    data: { datasets },
    options: {
      responsive: false,
      animation: false,
      events: [],
      devicePixelRatio: 1,
      elements: { line: { cubicInterpolationMode: "monotone" } },
      layout: { padding: { top: 10, left: 0, right: 0, bottom: 0 } },
      plugins: {
        legend: { display: false },
        tooltip: { enabled: false },
        frameAndLegends: { leftItems },
      },
      scales: {
        x: {
          type: "linear", min: -50, max: 1050, bounds: "data",
          afterBuildTicks: (s) => { s.ticks = xTicks.map((v) => ({ value: v })); },
          afterFit: (s) => { s.height = p.xh; s.paddingLeft = 0; s.paddingRight = 0; },
          grid: { drawOnChartArea: false, drawTicks: true, tickLength: 5, tickColor: "#000", color: "#000" },
          border: { display: false },
          ticks: { display: last, color: "#000", font: { family: FONT, size: 13.9 }, padding: 5, maxRotation: 0, autoSkip: false, callback: (v) => String(v) },
        },
        y: {
          position: "left", min: p.left[0], max: p.left[1], bounds: "data",
          afterBuildTicks: (s) => { s.ticks = p.leftTicks.map((v) => ({ value: v })); },
          afterFit: (s) => { s.width = 73; s.paddingTop = 0; s.paddingBottom = 0; },
          grid: { drawOnChartArea: false, tickLength: 5, tickColor: "#000", color: "#000" },
          border: { display: false },
          ticks: { color: "#000", font: { family: FONT, size: 13.9 }, padding: 9, callback: p.leftFmt },
        },
        y2: {
          position: "right", min: p.right[0], max: p.right[1], bounds: "data",
          afterBuildTicks: (s) => { s.ticks = p.rightTicks.map((v) => ({ value: v })); },
          afterFit: (s) => { s.width = 74; s.paddingTop = 0; s.paddingBottom = 0; },
          grid: { drawOnChartArea: false, tickLength: 5, tickColor: "#000", color: "#000" },
          border: { display: false },
          ticks: { color: "#000", font: { family: FONT, size: 13.9 }, padding: 6, callback: p.rightFmt },
        },
      },
    },
    plugins: [framePlugin],
  });

  addText("title", p.title, { left: "73px", top: (p.top - 23) + "px" });
  addText("title", p.score, { right: "74px", top: (p.top - 23) + "px" });
  addText("lab", "<i>\u03bc</i><sub>" + p.sub + "</sub>", { left: "23px", top: (p.top + p.h / 2) + "px" });
  addText("lab", "Surprise", { left: "1793px", top: (p.top + p.h / 2) + "px" });
});

addText("xlab", "Time", { left: "905px", top: "893px" });
</script>
</body>
</html>
